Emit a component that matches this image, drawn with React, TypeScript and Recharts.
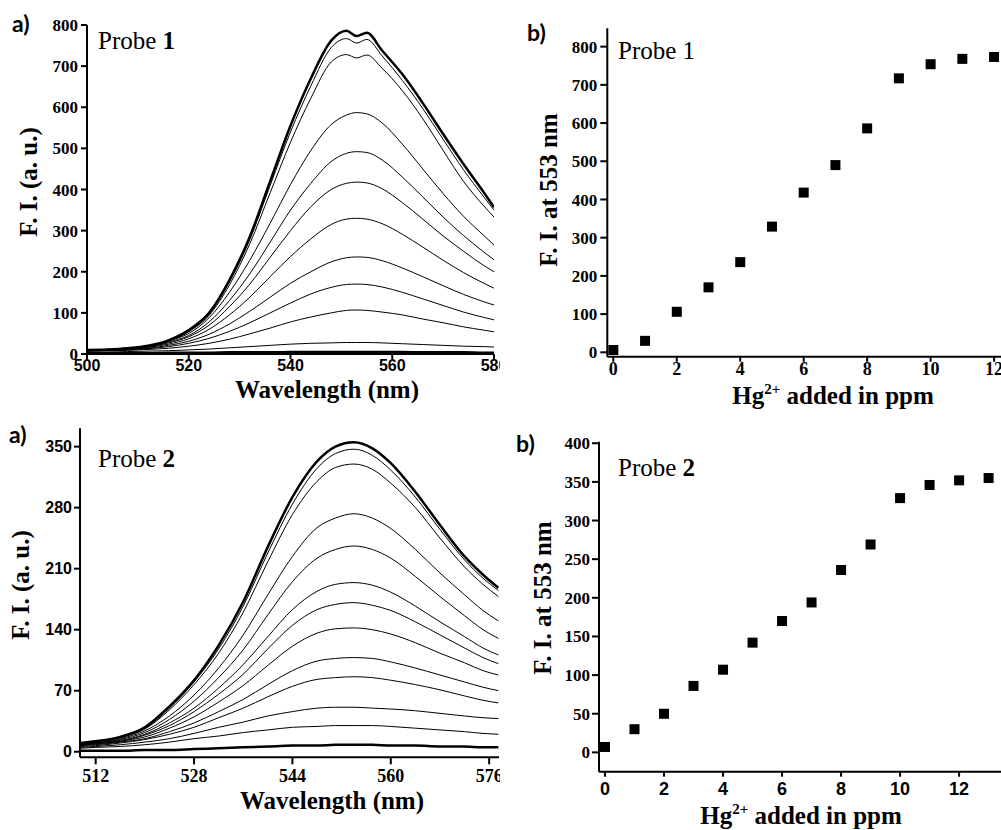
import { LineChart, Line, ScatterChart, Scatter, XAxis, YAxis } from "recharts";

// ---- Probe 1 spectra (panel a, top) ----
const wl1 = [500, 504, 508, 512, 516, 520, 524, 528, 532, 536, 540, 544, 548, 551, 553, 555, 558, 562, 566, 570, 574, 578, 580];
const p1s0 = [10, 11, 14, 20, 33, 58, 100, 180, 285, 420, 555, 670, 762, 786, 773, 781, 738, 680, 610, 535, 462, 393, 357];
const p1s1 = [9, 10, 13, 19, 32, 56, 97, 175, 278, 410, 540, 652, 745, 767, 756, 765, 725, 665, 597, 522, 448, 382, 350];
const p1s2 = [9, 10, 13, 19, 31, 54, 94, 168, 268, 392, 515, 622, 710, 728, 720, 727, 695, 640, 572, 495, 420, 360, 333];
const p1s3 = [9, 11, 14, 20, 32, 50, 88, 150, 228, 318, 412, 495, 558, 581, 587, 584, 562, 510, 450, 390, 335, 288, 265];
const p1s4 = [9, 10, 13, 18, 29, 45, 78, 130, 195, 272, 350, 415, 468, 488, 492, 490, 472, 430, 382, 333, 288, 248, 229];
const p1s5 = [8, 10, 12, 17, 27, 42, 70, 115, 170, 235, 300, 358, 400, 415, 418, 416, 402, 368, 328, 287, 250, 215, 200];
const p1s6 = [8, 9, 11, 16, 24, 37, 60, 95, 138, 188, 237, 280, 315, 328, 330, 328, 317, 291, 260, 228, 198, 172, 160];
const p1s7 = [8, 9, 11, 14, 21, 31, 48, 73, 104, 138, 172, 200, 224, 234, 236, 235, 227, 209, 188, 166, 145, 127, 119];
const p1s8 = [8, 9, 10, 13, 18, 26, 38, 55, 76, 100, 124, 146, 162, 169, 170, 169, 163, 150, 134, 118, 102, 89, 83];
const p1s9 = [7, 8, 9, 11, 14, 19, 26, 36, 49, 63, 78, 90, 100, 106, 107, 106, 102, 95, 85, 76, 66, 58, 54];
const p1s10 = [5, 5, 6, 7, 8, 10, 12, 15, 18, 21, 24, 26, 27, 28, 28, 28, 27, 25, 23, 21, 19, 18, 17];
const p1s11 = [2, 2, 2, 2, 3, 3, 3, 4, 4, 4, 5, 5, 5, 5, 5, 5, 5, 5, 4, 4, 4, 3, 3];

// ---- Probe 2 spectra (panel a, bottom) ----
const wl2 = [509.5, 512, 516, 520, 524, 528, 532, 536, 540, 544, 548, 551, 554, 557, 560, 564, 568, 572, 575, 577.5];
const p2s0 = [10, 12, 17, 28, 52, 82, 122, 172, 235, 292, 333, 350, 355, 348, 331, 298, 260, 224, 203, 188];
const p2s1 = [10, 12, 17, 27, 50, 80, 118, 167, 228, 284, 325, 342, 347, 340, 323, 292, 255, 220, 199, 185];
const p2s2 = [9, 11, 16, 26, 48, 77, 113, 160, 218, 272, 310, 326, 330, 324, 308, 280, 245, 212, 192, 178];
const p2s3 = [9, 11, 15, 24, 41, 65, 96, 134, 180, 224, 257, 268, 273, 268, 256, 232, 205, 180, 162, 150];
const p2s4 = [8, 10, 14, 22, 37, 58, 85, 117, 157, 195, 222, 232, 236, 232, 222, 201, 178, 156, 140, 130];
const p2s5 = [8, 10, 13, 20, 33, 50, 73, 100, 132, 163, 184, 192, 194, 191, 183, 167, 149, 132, 119, 111];
const p2s6 = [8, 9, 12, 19, 30, 46, 66, 89, 118, 145, 163, 169, 171, 168, 162, 149, 134, 119, 108, 101];
const p2s7 = [7, 9, 12, 17, 27, 40, 57, 76, 99, 121, 136, 141, 142, 140, 135, 125, 113, 102, 93, 88];
const p2s8 = [7, 8, 11, 15, 23, 33, 46, 60, 77, 93, 104, 107, 108, 107, 103, 96, 88, 80, 74, 70];
const p2s9 = [6, 7, 10, 14, 20, 28, 39, 50, 63, 75, 83, 85, 86, 85, 82, 77, 71, 64, 59, 56];
const p2s10 = [5, 6, 8, 11, 15, 21, 28, 34, 41, 46, 50, 51, 51, 50, 49, 47, 44, 41, 39, 38];
const p2s11 = [4, 5, 6, 8, 11, 15, 18, 22, 25, 28, 29, 30, 30, 30, 29, 27, 25, 23, 21, 20];
const p2s12 = [1, 1, 1, 2, 2, 3, 4, 5, 6, 7, 7, 8, 8, 8, 7, 7, 6, 6, 5, 5];

// ---- titrations (panel b) ----
const ppm1 = [0, 1, 2, 3, 4, 5, 6, 7, 8, 9, 10, 11, 12];
const fi1 = [6, 30, 106, 170, 236, 329, 418, 490, 586, 717, 754, 768, 773];
const ppm2 = [0, 1, 2, 3, 4, 5, 6, 7, 8, 9, 10, 11, 12, 13];
const fi2 = [7, 30, 50, 86, 107, 142, 170, 194, 236, 269, 329, 346, 352, 355];

const ticksX1a = [500, 520, 540, 560, 580];
const ticksY1a = [0, 100, 200, 300, 400, 500, 600, 700, 800];
const ticksX1b = [0, 2, 4, 6, 8, 10, 12];
const ticksY1b = [0, 100, 200, 300, 400, 500, 600, 700, 800];
const ticksX2a = [512, 528, 544, 560, 576];
const ticksY2a = [0, 70, 140, 210, 280, 350];
const ticksX2b = [0, 2, 4, 6, 8, 10, 12];
const ticksY2b = [0, 50, 100, 150, 200, 250, 300, 350, 400];

const serif = "Liberation Serif";
const sans = "Liberation Sans";
const letterFont = "Lato";

const series1 = [p1s0, p1s1, p1s2, p1s3, p1s4, p1s5, p1s6, p1s7, p1s8, p1s9, p1s10, p1s11];
const series2 = [p2s0, p2s1, p2s2, p2s3, p2s4, p2s5, p2s6, p2s7, p2s8, p2s9, p2s10, p2s11, p2s12];

const rows1 = wl1.map((w, i) => {
  const r: Record<string, number> = { w };
  series1.forEach((s, k) => (r["s" + k] = s[i]));
  return r;
});
const rows2 = wl2.map((w, i) => {
  const r: Record<string, number> = { w };
  series2.forEach((s, k) => (r["s" + k] = s[i]));
  return r;
});
const pts1 = ppm1.map((x, i) => ({ x, y: fi1[i] }));
const pts2 = ppm2.map((x, i) => ({ x, y: fi2[i] }));

const axisStroke = { stroke: "#000", strokeWidth: 2 };

// tick text drawn by hand so the font family sticks
const tickText = (family: string, size: number, isX: boolean) => (props: any) => {
  const { x, y, payload, textAnchor } = props;
  return (
    <text x={x} y={y} dy={isX ? "0.71em" : "0.355em"} textAnchor={textAnchor}
      fontFamily={family} fontWeight="bold" fontSize={size} fill="#000">
      {payload.value}
    </text>
  );
};

const Square = (props: any) => {
  const { cx, cy } = props;
  if (cx == null || cy == null) return null;
  return <rect x={cx - 5} y={cy - 5} width={10} height={10} fill="#000" />;
};

const box = (left: number, top: number) => ({ position: "absolute" as const, left, top });

export default function App() {
  const lastThick1 = series1.length - 1;
  const lastThick2 = series2.length - 1;
  return (
    <div style={{ position: "absolute", left: 0, top: 0, width: 1001, height: 830, overflow: "hidden", background: "#fff" }}>
      {/* a) probe 1 */}
      <div style={box(0, 0)}>
        <LineChart width={500} height={400} data={rows1} margin={{ top: 25, right: 6, bottom: 16, left: 0 }}>
          <XAxis dataKey="w" type="number" domain={[500, 580]} ticks={ticksX1a} interval={0}
            axisLine={axisStroke} tickLine={axisStroke} tickSize={5} tickMargin={1} height={30}
            tick={tickText(sans, 16, true)} allowDataOverflow />
          <YAxis type="number" domain={[0, 800]} ticks={ticksY1a} interval={0}
            axisLine={axisStroke} tickLine={axisStroke} tickSize={6} tickMargin={3} width={87}
            tick={tickText(serif, 17, false)} allowDataOverflow />
          {series1.map((_, k) => (
            <Line key={k} dataKey={"s" + k} type="monotone" stroke="#000"
              strokeWidth={k === 0 || k === lastThick1 ? 2.5 : 1} dot={false} isAnimationActive={false} />
          ))}
        </LineChart>
      </div>

      {/* b) probe 1 */}
      <div style={box(500, 0)}>
        <ScatterChart width={502} height={400} margin={{ top: 28.3, right: 0, bottom: 13.3, left: 0 }}>
          <XAxis dataKey="x" type="number" domain={[-0.19, 12.25]} ticks={ticksX1b} interval={0}
            axisLine={axisStroke} tickLine={axisStroke} tickSize={5} tickMargin={1} height={30}
            tick={tickText(serif, 18, true)} allowDataOverflow />
          <YAxis dataKey="y" type="number" domain={[-11.5, 848]} ticks={ticksY1b} interval={0}
            axisLine={axisStroke} tickLine={axisStroke} tickSize={7} tickMargin={3} width={107.3}
            tick={tickText(serif, 17, false)} allowDataOverflow />
          <Scatter data={pts1} fill="#000" shape={Square} isAnimationActive={false} />
        </ScatterChart>
      </div>

      {/* a) probe 2 */}
      <div style={box(0, 410)}>
        <LineChart width={500} height={420} data={rows2} margin={{ top: 18.3, right: 1, bottom: 42.7, left: 0 }}>
          <XAxis dataKey="w" type="number" domain={[509.45, 577.6]} ticks={ticksX2a} interval={0}
            axisLine={axisStroke} tickLine={axisStroke} tickSize={7} tickMargin={5} height={30}
            tick={tickText(serif, 18, true)} allowDataOverflow />
          <YAxis type="number" domain={[-6.4, 371]} ticks={ticksY2a} interval={0}
            axisLine={axisStroke} tickLine={axisStroke} tickSize={6} tickMargin={2} width={80}
            tick={tickText(sans, 16, false)} allowDataOverflow />
          {series2.map((_, k) => (
            <Line key={k} dataKey={"s" + k} type="monotone" stroke="#000"
              strokeWidth={k === 0 || k === lastThick2 ? 2.5 : 1} dot={false} isAnimationActive={false} />
          ))}
        </LineChart>
      </div>

      {/* b) probe 2 */}
      <div style={box(500, 410)}>
        <ScatterChart width={501} height={420} margin={{ top: 31.7, right: 0, bottom: 28.3, left: 0 }}>
          <XAxis dataKey="x" type="number" domain={[-0.203, 13.42]} ticks={ticksX2b} interval={0}
            axisLine={axisStroke} tickLine={axisStroke} tickSize={5} tickMargin={6} height={30}
            tick={tickText(sans, 18, true)} allowDataOverflow />
          <YAxis dataKey="y" type="number" domain={[-25, 402]} ticks={ticksY2b} interval={0}
            axisLine={axisStroke} tickLine={axisStroke} tickSize={7} tickMargin={2} width={99}
            tick={tickText(serif, 17, false)} allowDataOverflow />
          <Scatter data={pts2} fill="#000" shape={Square} isAnimationActive={false} />
        </ScatterChart>
      </div>

      {/* titles and panel labels */}
      <svg width={1001} height={830} style={{ position: "absolute", left: 0, top: 0, pointerEvents: "none" }}>
        <g fontFamily={letterFont} fontWeight="bold" fontSize={23} fill="#000">
          <text x={12} y={32}>a)</text>
          <text x={527} y={41}>b)</text>
          <text x={9} y={443}>a)</text>
          <text x={516} y={452}>b)</text>
        </g>
        <g fontFamily={serif} fontSize={25} fill="#000">
          <text x={98} y={49}>Probe <tspan fontWeight="bold">1</tspan></text>
          <text x={618} y={59}>Probe 1</text>
          <text x={98} y={467}>Probe <tspan fontWeight="bold">2</tspan></text>
          <text x={618} y={476}>Probe <tspan fontWeight="bold">2</tspan></text>
        </g>
        <g fontFamily={serif} fontWeight="bold" fontSize={25} fill="#000" textAnchor="middle">
          <text x={327} y={398}>Wavelength (nm)</text>
          <text x={332} y={809}>Wavelength (nm)</text>
          <text x={37} y={182} transform="rotate(-90 37 182)">F. I. (a. u.)</text>
          <text x={29} y={585} transform="rotate(-90 29 585)">F. I. (a. u.)</text>
          <text x={557} y={190} transform="rotate(-90 557 190)">F. I. at 553 nm</text>
          <text x={551} y={598} transform="rotate(-90 551 598)">F. I. at 553 nm</text>
          <text x={833} y={404}>Hg<tspan fontSize={15} dy={-10}>2+</tspan><tspan dy={10}> added in ppm</tspan></text>
          <text x={801} y={824}>Hg<tspan fontSize={15} dy={-10}>2+</tspan><tspan dy={10}> added in ppm</tspan></text>
        </g>
      </svg>
    </div>
  );
}
